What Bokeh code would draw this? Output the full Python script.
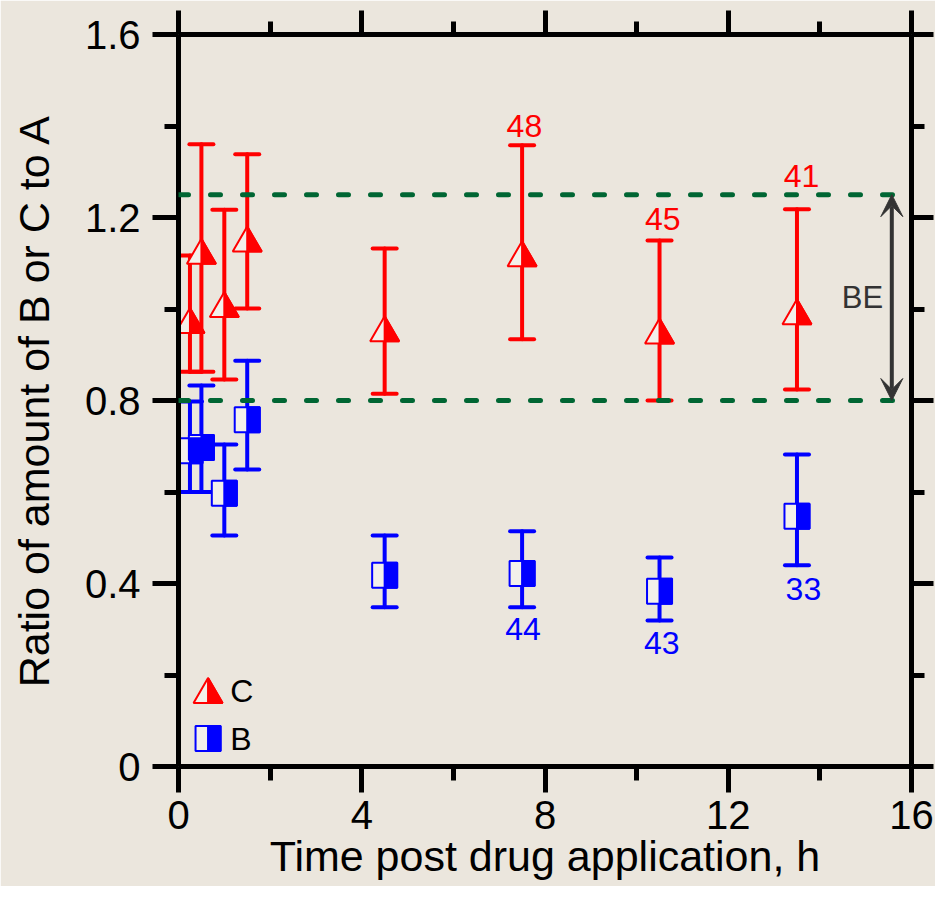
import numpy as np
from bokeh.plotting import figure
from bokeh.models import (Range1d, FixedTicker, LinearAxis, Whisker, TeeHead, Span,
                          Arrow, VeeHead, ColumnDataSource, Label)
from bokeh.core.properties import value
from bokeh.embed import file_html
from bokeh.resources import INLINE

# ---------------- data ----------------
time_h = [0.25, 0.5, 1.0, 1.5, 4.5, 7.5, 10.5, 13.5]

c_mean = [0.975, 1.126, 1.010, 1.153, 0.957, 1.121, 0.952, 0.994]
c_low = [0.863, 0.863, 0.846, 1.001, 0.815, 0.934, 0.800, 0.824]
c_high = [1.117, 1.360, 1.217, 1.338, 1.132, 1.358, 1.150, 1.218]

b_mean = [0.690, 0.697, 0.597, 0.758, 0.418, 0.422, 0.383, 0.547]
b_low = [0.600, 0.600, 0.505, 0.649, 0.348, 0.348, 0.319, 0.440]
b_high = [0.798, 0.833, 0.704, 0.887, 0.505, 0.514, 0.457, 0.682]

c_n_time = [7.55, 10.57, 13.6]
c_n_y = [1.399, 1.196, 1.290]
c_n_text = ["48", "45", "41"]

b_n_time = [7.52, 10.55, 13.64]
b_n_y = [0.300, 0.269, 0.389]
b_n_text = ["44", "43", "33"]

be_low, be_high = 0.80, 1.25
be_x = 15.57
be_text_x, be_text_y = 14.93, 1.025

legend_labels = ["C", "B"]
legend_y = [0.166, 0.061]
legend_marker_x = 0.645
legend_text_x = 1.13

x_ticks = [0, 4, 8, 12, 16]
x_minor = [2, 6, 10, 14]
y_ticks = [0, 0.4, 0.8, 1.2, 1.6]
y_minor = [0.2, 0.6, 1.0, 1.4]
y_tick_labels = ["0", "0.4", "0.8", "1.2", "1.6"]

# ---------------- layout ----------------
W, H = 935, 886
ML, MR, MT, MB = 178, 24, 34, 120
FW, FH = W - ML - MR, H - MT - MB
X0, X1, Y0, Y1 = 0, 16, 0, 1.6
DX = (X1 - X0) / FW   # data units per screen px
DY = (Y1 - Y0) / FH

BG = "#ebe6dd"
HOLLOW = "#f3f0ea"
RED = "#ff0000"
BLUE = "#0000ff"
GREEN = "#006633"
GREY = "#333333"
FONT = "Liberation Sans"

p = figure(width=W, height=H, x_range=Range1d(X0, X1), y_range=Range1d(Y0, Y1),
           output_backend="svg", toolbar_location=None,
           min_border_left=ML, min_border_right=MR, min_border_top=MT, min_border_bottom=MB)
p.background_fill_color = BG
p.border_fill_color = BG
p.outline_line_color = None
p.grid.visible = False

xt = FixedTicker(ticks=x_ticks, minor_ticks=x_minor)
yt = FixedTicker(ticks=y_ticks, minor_ticks=y_minor)


def style_axis(ax):
    ax.axis_line_width = 5
    ax.axis_line_color = "black"
    ax.major_tick_line_width = 5
    ax.minor_tick_line_width = 5
    ax.major_tick_out = 26
    ax.major_tick_in = 0
    ax.minor_tick_out = 14
    ax.minor_tick_in = 0
    ax.major_label_text_font = FONT
    ax.major_label_text_font_size = "40px"
    ax.major_label_text_color = "black"
    ax.axis_label_text_font = FONT
    ax.axis_label_text_font_size = "43px"
    ax.axis_label_text_font_style = "normal"
    ax.axis_label_text_color = "black"


xa = p.xaxis[0]
xa.ticker = xt
style_axis(xa)
xa.major_label_standoff = 8
xa.axis_label = "Time post drug application, h"
xa.axis_label_standoff = 0

ya = p.yaxis[0]
ya.ticker = yt
style_axis(ya)
ya.major_label_overrides = {t: s for t, s in zip(y_ticks, y_tick_labels)}
ya.major_label_standoff = 12
ya.axis_label = "Ratio of amount of B or C to A"
ya.axis_label_standoff = 24

for loc, tk, ticks in (("above", xt, x_ticks), ("right", yt, y_ticks)):
    ax = LinearAxis(ticker=tk)
    style_axis(ax)
    ax.major_label_overrides = {t: "" for t in ticks}
    ax.major_label_text_font_size = "10px"
    ax.major_label_standoff = 0
    ax.major_tick_out = 24 if loc == "above" else 22
    ax.minor_tick_out = 13
    p.add_layout(ax, loc)

# ---------------- BE band ----------------
for loc in (be_low, be_high):
    p.add_layout(Span(location=loc, dimension="width", line_color=GREEN, line_width=5,
                      line_dash="10 22", line_cap="round"))

p.add_layout(Arrow(x_start=be_x, y_start=be_low, x_end=be_x, y_end=be_high,
                   line_color=GREY, line_width=4,
                   start=VeeHead(size=22, fill_color=GREY, line_color=GREY, line_width=1),
                   end=VeeHead(size=22, fill_color=GREY, line_color=GREY, line_width=1)))
p.add_layout(Label(x=be_text_x, y=be_text_y, text="BE", text_align="center",
                   text_baseline="middle", text_font=FONT, text_font_size="31px",
                   text_color=GREY))

# ---------------- error bars ----------------
for mean, lo, hi, col in ((c_mean, c_low, c_high, RED), (b_mean, b_low, b_high, BLUE)):
    src = ColumnDataSource(dict(t=time_h, lo=lo, hi=hi))
    head = dict(size=24, line_color=col, line_width=4, line_cap="round")
    p.add_layout(Whisker(source=src, base="t", lower="lo", upper="hi",
                         line_color=col, line_width=4, line_cap="round",
                         upper_head=TeeHead(**head), lower_head=TeeHead(**head)))

# ---------------- markers ----------------
TRI_HW, TRI_HH = 14.5, 12.5   # px
SQ_H = 12.5                   # px


def draw_triangles(xs, ys):
    xs = np.asarray(xs, float)
    ys = np.asarray(ys, float)
    hw, hh = TRI_HW * DX, TRI_HH * DY
    full_x = [[x - hw, x, x + hw] for x in xs]
    full_y = [[y - hh, y + hh, y - hh] for y in ys]
    half_x = [[x, x, x + hw] for x in xs]
    half_y = [[y + hh, y - hh, y - hh] for y in ys]
    p.patches(full_x, full_y, fill_color=HOLLOW, line_color=RED, line_width=2)
    p.patches(half_x, half_y, fill_color=RED, line_color=RED, line_width=2)


def draw_squares(xs, ys):
    xs = np.asarray(xs, float)
    ys = np.asarray(ys, float)
    hw, hh = SQ_H * DX, SQ_H * DY
    p.quad(left=xs - hw, right=xs + hw, bottom=ys - hh, top=ys + hh,
           fill_color=HOLLOW, line_color=BLUE, line_width=2)
    p.quad(left=xs, right=xs + hw, bottom=ys - hh, top=ys + hh,
           fill_color=BLUE, line_color=BLUE, line_width=2)


draw_triangles(time_h, c_mean)
draw_squares(time_h, b_mean)

# ---------------- n labels ----------------
p.text(x=c_n_time, y=c_n_y, text=c_n_text, text_color=RED, text_align="center",
       text_baseline="middle", text_font=value(FONT), text_font_size="32px")
p.text(x=b_n_time, y=b_n_y, text=b_n_text, text_color=BLUE, text_align="center",
       text_baseline="middle", text_font=value(FONT), text_font_size="32px")

# ---------------- legend ----------------
draw_triangles([legend_marker_x], [legend_y[0]])
draw_squares([legend_marker_x], [legend_y[1]])
p.text(x=[legend_text_x] * len(legend_labels), y=legend_y, text=legend_labels,
       text_color="black", text_align="left", text_baseline="middle",
       text_font=value(FONT), text_font_size="32px")

open("out.html", "w").write(file_html(p, INLINE))
